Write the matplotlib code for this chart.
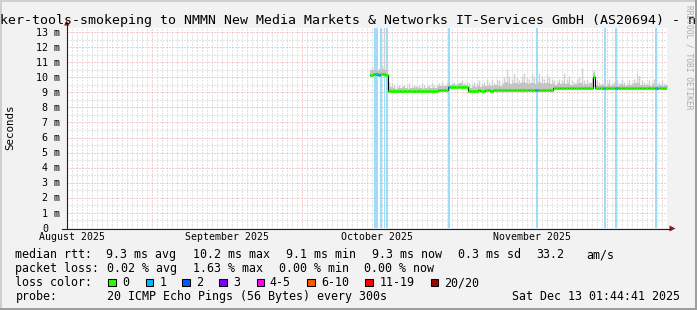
import matplotlib
matplotlib.use("Agg")
import matplotlib.pyplot as plt
import matplotlib.dates as mdates
import matplotlib.transforms as mtransforms
from matplotlib.patches import Polygon, Rectangle
from matplotlib.lines import Line2D
import pandas as pd

# ---------------- data ----------------
graph_start = "2025-08-15 01:44:41"
graph_end = "2025-12-13 01:44:41"
sample_start = "2025-10-14 18:00"
sample_step = "12h"

median_ms = [
    10.15, 10.2, 10.2, 10.15, 10.2, 10.2, 10.15,
    9.1, 9.1, 9.1, 9.1, 9.1, 9.1, 9.1, 9.1, 9.1, 9.1,
    9.1, 9.1, 9.1, 9.1, 9.1, 9.1, 9.1, 9.1, 9.1, 9.1,
    9.15, 9.15, 9.15, 9.15,
    9.35, 9.35, 9.35, 9.35, 9.35, 9.35, 9.35, 9.35,
    9.1, 9.1, 9.1, 9.1, 9.12, 9.1, 9.1, 9.12, 9.12, 9.1,
    9.12, 9.15, 9.12, 9.12, 9.15, 9.12, 9.15, 9.15, 9.12, 9.15,
    9.15, 9.12, 9.15, 9.15, 9.15, 9.12, 9.15, 9.15, 9.12, 9.15,
    9.15, 9.15, 9.12, 9.15,
    9.3, 9.3, 9.3, 9.3, 9.3, 9.3, 9.3, 9.3, 9.3, 9.3,
    9.3, 9.3, 9.3, 9.3, 9.3, 9.3,
    10.0,
    9.3, 9.3, 9.3, 9.3, 9.3, 9.3, 9.3, 9.3, 9.3, 9.3,
    9.3, 9.3, 9.3, 9.3, 9.3, 9.3, 9.3, 9.3, 9.3, 9.3,
    9.3, 9.3, 9.3, 9.3, 9.3, 9.3, 9.3, 9.3, 9.3,
]

loss_pings = [
    0, 0, 1, 1, 0, 0, 0,
    0, 0, 0, 0, 0, 0, 0, 0, 0, 0,
    0, 0, 0, 0, 0, 0, 0, 0, 0, 0,
    0, 0, 0, 0,
    1, 0, 0, 0, 0, 0, 0, 0,
    0, 0, 0, 0, 0, 0, 0, 0, 0, 0,
    0, 0, 0, 0, 0, 0, 0, 0, 0, 0,
    0, 0, 0, 0, 0, 0, 0, 1, 0, 0,
    0, 0, 0, 0,
    0, 0, 0, 0, 0, 0, 0, 0, 0, 0,
    0, 0, 0, 0, 0, 0,
    0,
    0, 0, 0, 1, 0, 0, 0, 0, 1, 0,
    0, 0, 0, 0, 0, 0, 0, 0, 0, 0,
    0, 0, 0, 0, 1, 0, 0, 0, 0,
]

smoke_dense_ms = [
    10.45, 10.5, 10.45, 10.5, 10.5, 10.55, 10.45,
    9.3, 9.35, 9.3, 9.25, 9.3, 9.3, 9.35, 9.3, 9.25, 9.3,
    9.3, 9.35, 9.3, 9.3, 9.25, 9.3, 9.35, 9.3, 9.3, 9.3,
    9.4, 9.45, 9.4, 9.4,
    9.55, 9.5, 9.55, 9.5, 9.55, 9.6, 9.5, 9.5,
    9.35, 9.3, 9.4, 9.35, 9.4, 9.35, 9.4, 9.45, 9.4, 9.45,
    9.4, 9.5, 9.45, 9.45, 9.55, 9.7, 9.6, 9.55, 9.65, 9.6,
    9.55, 9.6, 9.7, 9.6, 9.55, 9.65, 9.6, 9.55, 9.7, 9.6,
    9.55, 9.65, 9.6, 9.55,
    9.55, 9.5, 9.6, 9.55, 9.65, 9.55, 9.6, 9.5, 9.5, 9.55,
    9.6, 9.65, 9.5, 9.55, 9.5, 9.6,
    10.3,
    9.5, 9.45, 9.5, 9.5, 9.45, 9.55, 9.45, 9.5, 9.5, 9.45,
    9.55, 9.5, 9.45, 9.5, 9.5, 9.55, 9.65, 9.6, 9.5, 9.45,
    9.5, 9.5, 9.45, 9.55, 9.45, 9.5, 9.5, 9.45, 9.5,
]

smoke_max_ms = [
    10.7, 10.6, 10.5, 10.6, 10.8, 13.5, 11.2,
    9.7, 9.6, 9.5, 9.4, 9.5, 9.4, 9.5, 9.4, 9.6, 9.4,
    9.5, 9.4, 9.5, 9.6, 9.5, 9.4, 9.5, 9.6, 9.5, 9.5,
    9.6, 9.7, 9.5, 9.6,
    9.7, 9.6, 9.7, 9.6, 9.7, 9.8, 9.6, 9.7,
    9.6, 9.5, 9.7, 9.6, 9.8, 9.6, 9.7, 9.9, 9.7, 9.8,
    9.6, 9.9, 9.8, 9.7, 10.0, 10.5, 10.1, 9.9, 10.2, 10.0,
    9.8, 10.1, 10.3, 10.0, 9.9, 10.2, 10.0, 9.8, 10.3, 10.1,
    9.9, 10.2, 10.0, 9.9,
    9.8, 9.7, 9.9, 9.8, 10.3, 9.9, 10.1, 9.8, 9.7, 9.9,
    10.0, 10.6, 9.8, 9.9, 9.7, 10.0,
    10.5,
    9.8, 9.7, 9.6, 9.8, 9.7, 9.9, 9.6, 9.7, 9.8, 9.6,
    9.9, 9.7, 9.6, 9.8, 9.7, 9.9, 10.3, 10.1, 9.8, 9.7,
    9.6, 9.8, 9.7, 9.9, 9.6, 9.7, 9.8, 9.6, 9.7,
]

loss_start = ["2025-10-15 12:45", "2025-10-16 16:05", "2025-10-17 11:00",
              "2025-10-17 20:55", "2025-10-30 07:30", "2025-11-16 22:00",
              "2025-11-30 12:30", "2025-12-02 17:30", "2025-12-10 17:30"]
loss_end = ["2025-10-16 05:05", "2025-10-17 00:15", "2025-10-17 18:00",
            "2025-10-18 05:05", "2025-10-30 14:30", "2025-11-17 05:00",
            "2025-11-30 19:30", "2025-12-03 00:30", "2025-12-11 00:30"]

y_tick_values = [0, 1, 2, 3, 4, 5, 6, 7, 8, 9, 10, 11, 12, 13]
y_tick_labels = ["0", "1 m", "2 m", "3 m", "4 m", "5 m", "6 m", "7 m",
                 "8 m", "9 m", "10 m", "11 m", "12 m", "13 m"]
y_minor_values = [0.5, 1.5, 2.5, 3.5, 4.5, 5.5, 6.5, 7.5, 8.5, 9.5,
                  10.5, 11.5, 12.5]
month_starts = ["2025-09-01", "2025-10-01", "2025-11-01", "2025-12-01"]
month_labels = ["August 2025", "September 2025", "October 2025", "November 2025"]
month_label_at = ["2025-08-16", "2025-09-16", "2025-10-16", "2025-11-16"]

loss_colors = ["#26ff00", "#00b8ff", "#0059ff", "#7e00ff",
               "#ff00ff", "#ff5500", "#ff0000", "#a10000"]
loss_labels = ["0", "1", "2", "3", "4-5", "6-10", "11-19", "20/20"]

title = ("ker-tools-smokeping to NMMN New Media Markets & Networks "
         "IT-Services GmbH (AS20694) - n")
line_rtt = [("median rtt:", 16), ("9.3 ms avg", 107), ("10.2 ms max", 193.3),
            ("9.1 ms min", 287), ("9.3 ms now", 372.7), ("0.3 ms sd", 458.3),
            ("33.2", 536.7), ("am/s", 586.7)]
line_loss = [("packet loss:", 16), ("0.02 % avg", 107.3), ("1.63 % max", 194),
             ("0.00 % min", 279.3), ("0.00 % now", 365)]
probe_text = "20 ICMP Echo Pings (56 Bytes) every 300s"
stamp_text = "Sat Dec 13 01:44:41 2025"

# ---------------- layout ----------------
W, H, DPI = 697, 310, 100
MONO = "DejaVu Sans Mono"


def fx(x):
    return x / W


def fy(y):
    return 1 - y / H


fig = plt.figure(figsize=(W / DPI, H / DPI), dpi=DPI, facecolor="#f2f2f2")

# frame shading
fig.add_artist(Rectangle((0, fy(2)), 1, 2 / H, transform=fig.transFigure,
                         color="#cfcfcf", lw=0))
fig.add_artist(Rectangle((0, 0), 2 / W, 1, transform=fig.transFigure,
                         color="#cfcfcf", lw=0))
fig.add_artist(Rectangle((0, 0), 1, 2 / H, transform=fig.transFigure,
                         color="#9e9e9e", lw=0))
fig.add_artist(Rectangle((fx(695), 0), 2 / W, 1, transform=fig.transFigure,
                         color="#9e9e9e", lw=0))

ax = fig.add_axes([fx(67), fy(228), 600 / W, 200 / H])
ax.set_facecolor("white")
for s in ax.spines.values():
    s.set_visible(False)
ax.set_xticks([])
ax.set_yticks([])
ax.set_xlim(pd.Timestamp(graph_start), pd.Timestamp(graph_end))
ax.set_ylim(0, 13.265)

GRID = "#c9c9c9"
MGRID = "#ec9c9c"
dot = (0, (1, 2))
days = pd.date_range("2025-08-16", "2025-12-13", freq="D")
month_ts = [pd.Timestamp(m) for m in month_starts]
for d in days:
    if d not in month_ts:
        ax.axvline(d, color=GRID, lw=0.72, ls=dot, zorder=1)
for v in y_minor_values:
    ax.axhline(v, color=GRID, lw=0.72, ls=dot, zorder=1)
for v in y_tick_values[1:]:
    ax.axhline(v, color=MGRID, lw=0.72, ls=dot, zorder=1.5)
for m in month_ts:
    ax.axvline(m, color=MGRID, lw=0.72, ls=dot, zorder=1.5)

# loss background
for s, e in zip(loss_start, loss_end):
    ax.axvspan(pd.Timestamp(s), pd.Timestamp(e), color="#9fdcf7", lw=0,
               zorder=2)

# samples
times = pd.date_range(sample_start, periods=len(median_ms), freq=sample_step)
step = pd.Timedelta(sample_step)
edges = list(times) + [times[-1] + step]
med_ext = median_ms + [median_ms[-1]]
dense_ext = smoke_dense_ms + [smoke_dense_ms[-1]]

ax.vlines(times + step / 2, median_ms, smoke_max_ms, color="#cfcfcf",
          lw=1.0, zorder=3)
ax.fill_between(edges, med_ext, dense_ext, step="post", color="#c4c4c4",
                lw=0, zorder=3.2)
ax.step(edges, med_ext, where="post", color="black", lw=0.8, zorder=4)
ax.hlines(median_ms, times, times + step,
          colors=[loss_colors[n] for n in loss_pings], lw=2.2, zorder=5)

# axes lines and arrows
AXIS = "#1f1f1f"
ARROW = "#801f1f"
fig.add_artist(Line2D([fx(62), fx(670)], [fy(228.5), fy(228.5)],
                      transform=fig.transFigure, color=AXIS, lw=0.8))
fig.add_artist(Line2D([fx(66.5), fx(66.5)], [fy(229), fy(24)],
                      transform=fig.transFigure, color=AXIS, lw=0.8))
fig.add_artist(Polygon([(fx(64), fy(25.5)), (fx(69.5), fy(25.5)),
                        (fx(66.7), fy(20.5))], closed=True,
                       transform=fig.transFigure, color=ARROW, lw=0))
fig.add_artist(Polygon([(fx(669.5), fy(225.5)), (fx(669.5), fy(231.5)),
                        (fx(675.5), fy(228.5))], closed=True,
                       transform=fig.transFigure, color=ARROW, lw=0))

# y labels
ytrans = mtransforms.blended_transform_factory(fig.transFigure, ax.transData) \
    + mtransforms.ScaledTranslation(0, -3.6 / DPI, fig.dpi_scale_trans)
for v, lab in zip(y_tick_values, y_tick_labels):
    if lab == "0":
        fig.text(fx(48.3), v, lab, transform=ytrans, ha="right",
                 va="baseline", family=MONO, fontsize=7.2)
    else:
        fig.text(fx(60.3), v, lab, transform=ytrans, ha="right",
                 va="baseline", family=MONO, fontsize=7.2)

# x labels
xtrans = mtransforms.blended_transform_factory(ax.transData, fig.transFigure)
for d, lab in zip(month_label_at, month_labels):
    fig.text(mdates.date2num(pd.Timestamp(d)), fy(240.3), lab,
             transform=xtrans, ha="center", va="baseline", family=MONO,
             fontsize=7.1)

# titles
fig.text(fx(0.5), fy(24), title, ha="left", va="baseline", family=MONO,
         fontsize=9.53)
fig.text(fx(10.5), fy(127), "Seconds", rotation=90, ha="center", va="center",
         family=MONO, fontsize=7.8)
fig.text(fx(689), fy(57.5), "RRDTOOL / TOBI OETIKER", rotation=270,
         ha="center", va="center", family=MONO, fontsize=5.7, color="#ababab")

# legend
LF = 8.37
for txt, x in line_rtt:
    fig.text(fx(x - 0.6), fy(258), txt, ha="left", va="baseline",
             family=MONO, fontsize=LF)
for txt, x in line_loss:
    fig.text(fx(x - 0.6), fy(272), txt, ha="left", va="baseline",
             family=MONO, fontsize=LF)
fig.text(fx(15.4), fy(286), "loss color:", ha="left", va="baseline",
         family=MONO, fontsize=LF)
box_x = [108.3, 145.7, 182.3, 219.3, 256.7, 307.3, 365, 430.7]
lab_x = [123.3, 160.7, 197, 234, 270, 322, 380, 445]
for c, lab, bx, lx in zip(loss_colors, loss_labels, box_x, lab_x):
    fig.add_artist(Rectangle((fx(bx), fy(286)), 7.5 / W, 7.5 / H,
                             transform=fig.transFigure, facecolor=c,
                             edgecolor="black", lw=0.75))
    fig.text(fx(lx - 0.6), fy(286), lab, ha="left", va="baseline",
             family=MONO, fontsize=LF)
fig.text(fx(15.4), fy(300), "probe:", ha="left", va="baseline",
         family=MONO, fontsize=LF)
fig.text(fx(106.7), fy(300), probe_text, ha="left", va="baseline",
         family=MONO, fontsize=LF)
fig.text(fx(680.5), fy(300), stamp_text, ha="right", va="baseline",
         family=MONO, fontsize=LF)

fig.savefig("out.png", dpi=DPI, facecolor=fig.get_facecolor())
